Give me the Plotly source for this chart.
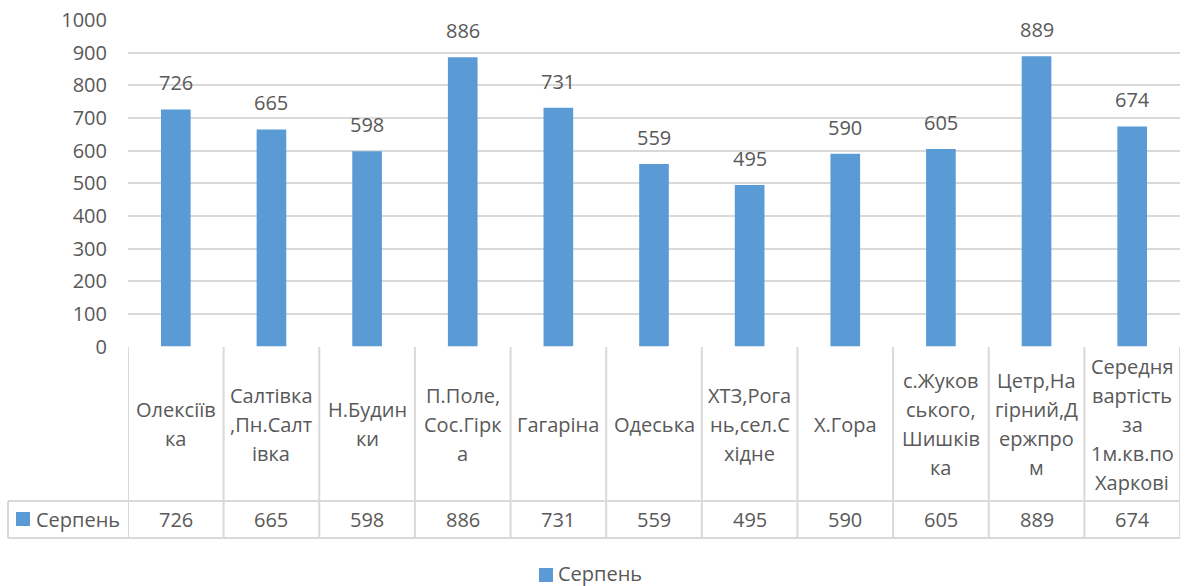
import plotly.graph_objects as go

categories = ["Олексіїв<br>ка", "Салтівка<br>,Пн.Салт<br>івка", "Н.Будин<br>ки", "П.Поле,<br>Сос.Гірк<br>а",
              "Гагаріна", "Одеська", "ХТЗ,Рога<br>нь,сел.С<br>хідне", "Х.Гора",
              "с.Жуков<br>ського,<br>Шишків<br>ка", "Цетр,На<br>гірний,Д<br>ержпро<br>м",
              "Середня<br>вартість<br>за<br>1м.кв.по<br>Харкові"]
series_name = "Серпень"
values = [726, 665, 598, 886, 731, 559, 495, 590, 605, 889, 674]
y_ticks = [0, 100, 200, 300, 400, 500, 600, 700, 800, 900, 1000]

W, H = 1186, 586
BLUE = "#5B9BD5"
TXT = "#595959"
GRID = "#D9D9D9"
FONT = "Open Sans"
FS = 20

def py(p):
    return 1 - p / H

def px(p):
    return p / W

xs = list(range(len(categories)))

fig = go.Figure()
fig.add_trace(go.Bar(x=xs, y=values, name=series_name, marker=dict(color=BLUE, line=dict(width=0)),
                     showlegend=False))

annotations = []
for x, v in zip(xs, values):
    annotations.append(dict(x=x, y=v, xref="x", yref="y", text=str(v), showarrow=False,
                            yanchor="bottom", yshift=11, font=dict(family=FONT, size=FS, color=TXT)))
# table header (category) row
header_top, header_bot, row_bot = 347, 501, 538
LINE = 29
for x, c in zip(xs, categories):
    lines = c.split("<br>")
    mid = (header_top + header_bot) / 2
    start = mid - LINE * (len(lines) - 1) / 2
    for k, ln in enumerate(lines):
        annotations.append(dict(x=x, y=py(start + k * LINE), xref="x", yref="paper", text=ln,
                                showarrow=False, yanchor="middle", align="center",
                                font=dict(family=FONT, size=FS, color=TXT)))
# value row
row_mid = (header_bot + row_bot) / 2
for x, v in zip(xs, values):
    annotations.append(dict(x=x, y=py(row_mid), xref="x", yref="paper", text=str(v),
                            showarrow=False, yanchor="middle", font=dict(family=FONT, size=FS, color=TXT)))
annotations.append(dict(x=px(35), y=py(row_mid), xref="paper", yref="paper",
                        text=series_name, showarrow=False, borderpad=0,
                        xanchor="left", yanchor="middle", font=dict(family=FONT, size=FS, color=TXT)))
# bottom legend
annotations.append(dict(x=px(557), y=py(573), xref="paper", yref="paper",
                        text=series_name, showarrow=False, borderpad=0,
                        xanchor="left", yanchor="middle", font=dict(family=FONT, size=FS, color=TXT)))

shapes = []
lw = 2
for i in range(len(categories) + 1):
    shapes.append(dict(type="line", xref="x", yref="paper", x0=i - 0.5, x1=i - 0.5,
                       y0=py(header_top), y1=py(row_bot), line=dict(color=GRID, width=lw)))
shapes.append(dict(type="line", xref="paper", yref="paper", x0=px(8), x1=px(1180),
                   y0=py(header_bot), y1=py(header_bot), line=dict(color=GRID, width=lw)))
shapes.append(dict(type="line", xref="paper", yref="paper", x0=px(8), x1=px(1180),
                   y0=py(row_bot), y1=py(row_bot), line=dict(color=GRID, width=lw)))
shapes.append(dict(type="line", xref="paper", yref="paper", x0=px(8), x1=px(8),
                   y0=py(header_bot), y1=py(row_bot), line=dict(color=GRID, width=lw)))
# legend keys
for (x0, y0) in [(16, 512), (539, 568)]:
    shapes.append(dict(type="rect", xref="paper", yref="paper", x0=px(x0), x1=px(x0 + 14),
                       y0=py(y0 + 14), y1=py(y0), fillcolor=BLUE, line=dict(width=0)))

fig.update_layout(
    width=W, height=H, margin=dict(l=0, r=0, t=0, b=0, pad=0, autoexpand=False),
    paper_bgcolor="white", plot_bgcolor="white",
    bargap=0.69, showlegend=False,
    font=dict(family=FONT, size=FS, color=TXT),
    xaxis=dict(domain=[px(128), px(1180)], range=[-0.5, len(categories) - 0.5], showticklabels=False,
               showgrid=False, zeroline=False, showline=False, fixedrange=True, automargin=False),
    yaxis=dict(domain=[py(346.5), py(20)], range=[0, 1000], tickvals=y_ticks, showgrid=True,
               gridcolor=GRID, gridwidth=2, zeroline=False, showline=False, automargin=False,
               ticklabelstandoff=20, tickfont=dict(family=FONT, size=FS, color=TXT)),
    annotations=annotations, shapes=shapes,
)

fig.write_html("out.html", config={"displayModeBar": False},
               post_script="document.body.style.margin='0';")
